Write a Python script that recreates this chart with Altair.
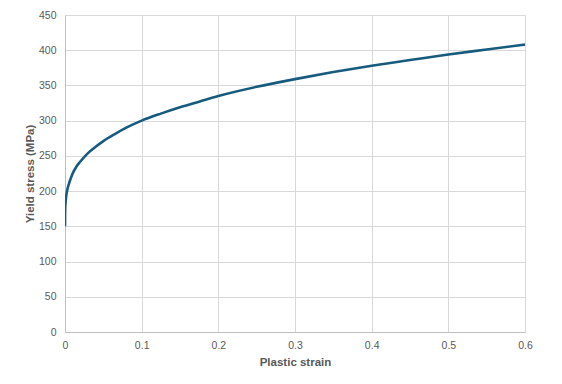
import altair as alt
import pandas as pd

strain = [0, 0.0001, 0.0003, 0.0006, 0.001, 0.002, 0.003, 0.005, 0.0075, 0.01, 0.015,
          0.02, 0.03, 0.04, 0.05, 0.065, 0.08, 0.1, 0.125, 0.15, 0.175,
          0.2, 0.25, 0.3, 0.35, 0.4, 0.45, 0.5, 0.55, 0.6]
stress = [150, 165, 176, 182, 187, 196, 202, 210, 218, 225, 235,
          242, 254, 263, 271, 281, 290, 300, 310, 319, 327,
          335, 348, 359, 369, 378, 386, 394, 401, 408]

df = pd.DataFrame({"strain": strain, "stress": stress})

font = "Liberation Sans"
grey = "#595959"

chart = alt.Chart(df).mark_line(color="#165B7E", strokeWidth=2.6, clip=True,
                                interpolate="monotone").encode(
    x=alt.X("strain:Q", title="Plastic strain",
            scale=alt.Scale(domain=[0, 0.6], nice=False),
            axis=alt.Axis(values=[0, 0.1, 0.2, 0.3, 0.4, 0.5, 0.6], format="~g",
                          ticks=False, labelPadding=8, titlePadding=6,
                          labelFlush=False)),
    y=alt.Y("stress:Q", title="Yield stress (MPa)",
            scale=alt.Scale(domain=[0, 450], nice=False),
            axis=alt.Axis(values=list(range(0, 451, 50)), ticks=False,
                          labelPadding=9, titlePadding=3)),
).properties(
    width=460, height=317,
    autosize=alt.AutoSizeParams(type="none"),
    padding={"left": 57, "top": 7, "right": 29, "bottom": 44},
).configure_axis(
    labelFont=font, labelFontSize=10.5, labelColor=grey,
    titleFont=font, titleFontSize=11.5, titleColor=grey, titleFontWeight="bold",
    gridColor="#d9d9d9", gridWidth=1,
    domainColor="#bfbfbf", domainWidth=1,
).configure_view(stroke=None)

chart.save("out.html", embed_options={"renderer": "svg", "actions": False})
